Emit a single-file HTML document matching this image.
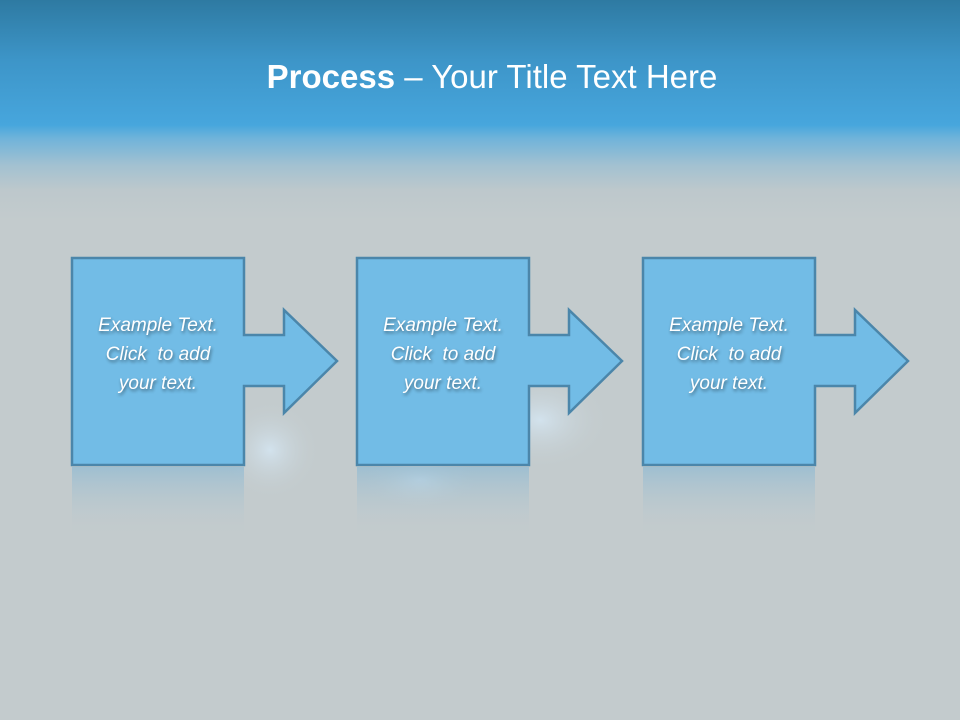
<!DOCTYPE html>
<html><head><meta charset="utf-8"><style>
html,body{margin:0;padding:0}
body{width:960px;height:720px;overflow:hidden;position:relative;font-family:"Liberation Sans",sans-serif;
background:linear-gradient(to bottom,#2e7aa2 0px,#3d95c8 60px,#47a6dd 125px,#6fb3da 138px,#a2c1d1 165px,#bdc8cc 190px,#c3cbcd 220px,#c3cbcd 720px);}
.title{position:absolute;top:58px;left:0;width:984px;text-align:center;color:#fff;font-size:33px;}
.t{position:absolute;width:172px;text-align:center;color:#fff;font-style:italic;font-size:19px;line-height:29px;text-shadow:1px 2px 3px rgba(0,0,0,.45);}
</style></head><body>
<div class="title"><b>Process</b> – Your Title Text Here</div>
<svg width="960" height="720" style="position:absolute;left:0;top:0">
<defs>
<linearGradient id="r" x1="0" y1="0" x2="0" y2="1"><stop offset="0" stop-color="#8fbad3" stop-opacity=".7"/><stop offset="1" stop-color="#c3cbcd" stop-opacity="0"/></linearGradient>
<radialGradient id="f" cx=".5" cy=".5" r=".5"><stop offset="0" stop-color="#d6e8f5" stop-opacity=".8"/><stop offset="1" stop-color="#c3cbcd" stop-opacity="0"/></radialGradient>
<g id="s"><path d="M72,258 H244 V335 H284 V310 L337,361 L284,413 V386 H244 V465 H72 Z" fill="#72bce6" stroke="#4b86aa" stroke-width="2.5" stroke-linejoin="miter"/>
<rect x="72" y="467" width="172" height="70" fill="url(#r)"/></g>
</defs>
<ellipse cx="270" cy="450" rx="50" ry="50" fill="url(#f)"/>
<ellipse cx="540" cy="420" rx="70" ry="50" fill="url(#f)"/>
<ellipse cx="420" cy="480" rx="60" ry="30" fill="url(#f)"/>
<use href="#s"/>
<use href="#s" x="285"/>
<use href="#s" x="571"/>
</svg>
<div class="t" style="left:72px;top:311px">Example Text.<br>Click &nbsp;to add<br>your text.</div>
<div class="t" style="left:357px;top:311px">Example Text.<br>Click &nbsp;to add<br>your text.</div>
<div class="t" style="left:643px;top:311px">Example Text.<br>Click &nbsp;to add<br>your text.</div>
</body></html>
